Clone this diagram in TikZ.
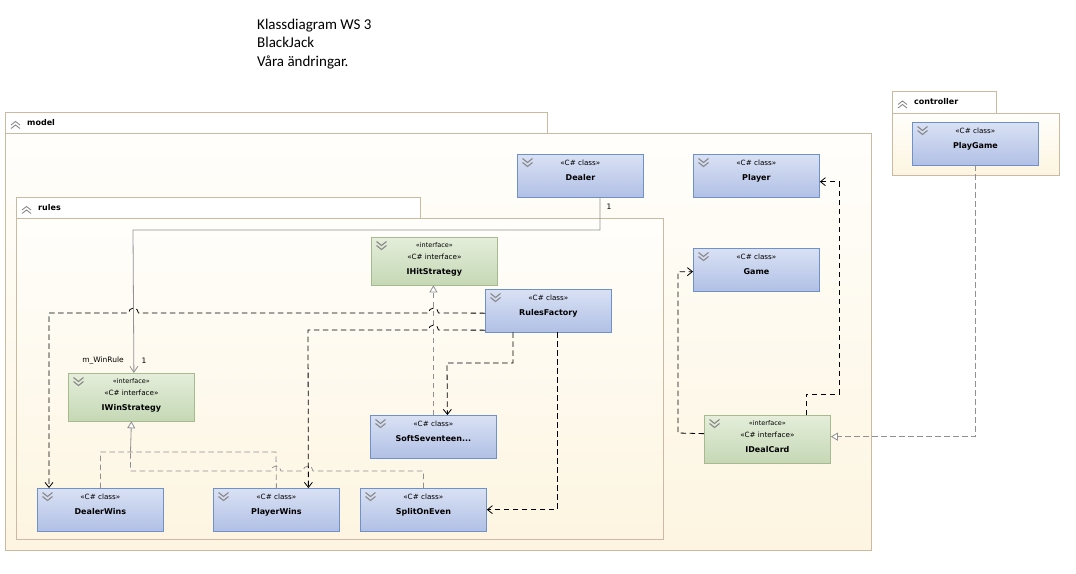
\documentclass[tikz,border=0pt]{standalone}
\usepackage{fontspec}
\setmainfont{DejaVu Sans}
\newfontfamily\titlefont{Carlito}
\usetikzlibrary{arrows.meta,calc}

\definecolor{clsline}{HTML}{7090C8}
\definecolor{clstop}{HTML}{D9E1F4}
\definecolor{clsbot}{HTML}{B1C0E5}
\definecolor{ifcline}{HTML}{A6B98F}
\definecolor{ifctop}{HTML}{E4EEDA}
\definecolor{ifcbot}{HTML}{C5D8B5}
\definecolor{pkgline}{HTML}{CCB9A2}
\definecolor{pkgtop}{HTML}{FFFEFB}
\definecolor{pkgbot}{HTML}{FDF5E1}
\definecolor{chevgray}{HTML}{8A8A8A}
\definecolor{realgray}{HTML}{909090}

\tikzset{
  cls/.style={draw=clsline, line width=0.8pt, top color=clstop, bottom color=clsbot,
    minimum width=126pt, minimum height=42.5pt, anchor=north west, inner sep=0pt},
  ifc/.style={cls, draw=ifcline, top color=ifctop, bottom color=ifcbot, minimum height=47.5pt},
  stereo/.style={font=\fontsize{7.2}{8}\selectfont, inner sep=0pt},
  cname/.style={font=\fontsize{8}{9.5}\selectfont\bfseries, inner sep=0pt},
  lbl/.style={font=\fontsize{7.5}{9}\selectfont, inner sep=0pt},
  titletxt/.style={font=\fontsize{15}{18}\selectfont\titlefont, inner sep=0pt, anchor=base west},
  pkgname/.style={font=\fontsize{8}{9.5}\selectfont\bfseries, inner sep=0pt, anchor=west},
  pkgtab/.style={draw=pkgline, line width=0.8pt, fill=white},
  pkgbody/.style={draw=pkgline, line width=0.8pt, top color=pkgtop, bottom color=pkgbot},
  dep/.style={draw=black, line width=0.8pt, dash pattern=on 5.5pt off 3.5pt,
    -{Straight Barb[length=5pt,width=8pt,line width=0.8pt]}},
  realize/.style={draw=realgray, line width=0.8pt, dash pattern=on 5.5pt off 3.5pt,
    -{Triangle[open,length=7pt,width=8pt,fill=white]}},
  realline/.style={draw=realgray, line width=0.8pt, dash pattern=on 5.5pt off 3.5pt},
  assoc/.style={draw=gray!85, line width=0.8pt, -{Straight Barb[length=6pt,width=8pt]}},
  chev/.style={draw=chevgray, line width=1.1pt},
}

% double chevron in the corner of a box
\newcommand{\chevdown}[1]{%
  \draw[chev] ([shift={(5.5pt,-4.5pt)}]#1.north west) -- ++(5pt,-4pt) -- ++(5pt,4pt)
    ([shift={(5.5pt,-8.5pt)}]#1.north west) -- ++(5pt,-4pt) -- ++(5pt,4pt);}
\newcommand{\chevup}[2]{%
  \draw[chev, line width=0.9pt] (#1,#2) -- ++(4.5,-3.5) -- ++(4.5,3.5)
    (#1,#2+3.5) -- ++(4.5,-3.5) -- ++(4.5,3.5);}
\newcommand{\umlclass}[3]{%
  \node[cls] (#1) at (#2) {};
  \node[stereo] (#1-st) at ([yshift=-9pt]#1.north) {«C\# class»};
  \node[cname] (#1-nm) at ([yshift=-24pt]#1.north) {#3};
  \chevdown{#1}}
\newcommand{\umlinterface}[3]{%
  \node[ifc] (#1) at (#2) {};
  \node[stereo, font=\fontsize{6.5}{8}\selectfont] (#1-st) at ([yshift=-8pt]#1.north) {«interface»};
  \node[stereo] (#1-cs) at ([yshift=-20pt]#1.north) {«C\# interface»};
  \node[cname] (#1-nm) at ([yshift=-35pt]#1.north) {#3};
  \chevdown{#1}}

\begin{document}
\begin{tikzpicture}[x=1pt,y=-1pt]
\useasboundingbox (0,0) rectangle (1076,573);

\node[titletxt] (title1) at (257,29.5) {Klassdiagram WS 3};
\node[titletxt] (title2) at (257,47.8) {BlackJack};
\node[titletxt] (title3) at (257,66.1) {Våra ändringar.};

% packages
\draw[pkgbody] (5,133) rectangle (871,550);
\draw[pkgtab]  (5,112) rectangle (547,133);
\chevup{11}{125}
\node[pkgname] (model) at (27,122.5) {model};

\draw[pkgbody] (16,218) rectangle (663,539);
\draw[pkgtab]  (16,197) rectangle (420,218);
\chevup{22}{210}
\node[pkgname] (rules) at (38,207.5) {rules};

\draw[pkgbody] (892,113) rectangle (1059,175);
\draw[pkgtab]  (892,91)  rectangle (996,113);
\chevup{898}{104.5}
\node[pkgname] (controller) at (914,102) {controller};

% classes
\umlclass{Dealer}{517,154}{Dealer}
\umlclass{Player}{693,154}{Player}
\umlclass{Game}{693,248}{Game}
\umlclass{PlayGame}{912,122}{PlayGame}
\umlinterface{IHitStrategy}{371,237}{IHitStrategy}
\umlclass{RulesFactory}{485,289}{RulesFactory}
\umlinterface{IWinStrategy}{68,373}{IWinStrategy}
\umlclass{SoftSeventeen}{370,415}{SoftSeventeen...}
\umlclass{DealerWins}{37,488}{DealerWins}
\umlclass{PlayerWins}{213,488}{PlayerWins}
\umlclass{SplitOnEven}{360,488}{SplitOnEven}
\umlinterface{IDealCard}{704,415}{IDealCard}

\coordinate (winjoin) at (130.5,452);

% association
\draw[assoc] ([xshift=19.5pt]Dealer.south) |- (133,230) -- ([xshift=2.5pt]IWinStrategy.north);
\node[lbl] (dealerone) at (609,207) {1};
\node[lbl, anchor=east] (winrule) at (124,361) {m\_WinRule};
\node[lbl] (winone) at (144,361) {1};

% realizations
\draw[realize] (SoftSeventeen.north) -- (SoftSeventeen.north |- IHitStrategy.south);
\draw[realline] (DealerWins.north) |- (276,452) -- (PlayerWins.north);
\draw[realline] (SplitOnEven.north) |- (313,471) arc[start angle=0,end angle=180,radius=5pt]
  -- (281,471) arc[start angle=0,end angle=180,radius=5pt] -- (130.5,471) -- (winjoin);
\draw[realize, solid] (winjoin) -- (IWinStrategy.south);
\draw[realize] (PlayGame.south) |- ([yshift=2.5pt]IDealCard.east);

% dependencies
\draw[dep] ([yshift=-2.5pt]RulesFactory.west) -- (438.5,313) arc[start angle=0,end angle=180,radius=5pt]
  -- (138.5,313) arc[start angle=0,end angle=180,radius=5pt] -- (49,313) -- ([xshift=12pt]DealerWins.north west);
\draw[dep] ([yshift=-19.5pt]RulesFactory.west) -- (438.5,330) arc[start angle=0,end angle=180,radius=5pt]
  -- (308,330) -- ([xshift=32pt]PlayerWins.north);
\draw[dep] ([xshift=-35.5pt]RulesFactory.south) |- (447,363) -- ([xshift=14pt]SoftSeventeen.north);
\draw[dep] ([xshift=8.5pt]RulesFactory.south) |- (SplitOnEven.east);
\draw[dep] ([yshift=5.5pt]IDealCard.west) -- (678,433) |- ([yshift=-2pt]Game.west);
\draw[dep] ([xshift=38.5pt]IDealCard.north) |- (839,394) |- ([yshift=-6pt]Player.east);

\end{tikzpicture}
\end{document}
